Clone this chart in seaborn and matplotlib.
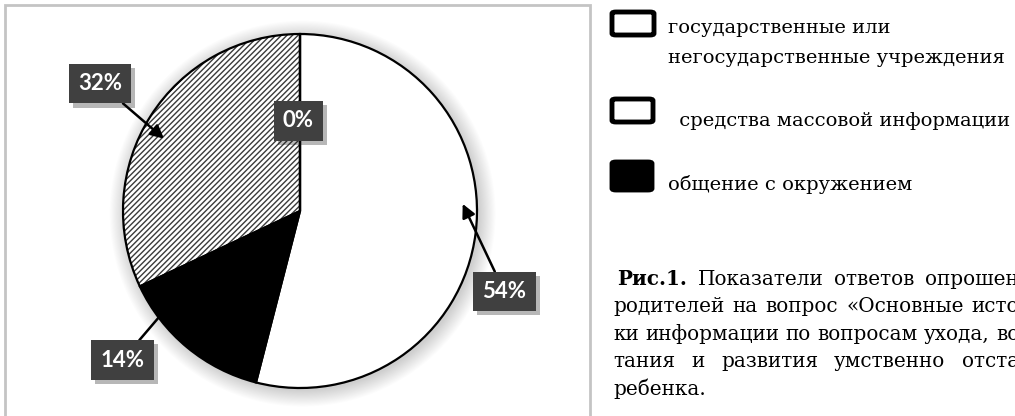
import numpy as np
import matplotlib
matplotlib.use("Agg")
import matplotlib.pyplot as plt
import seaborn as sns
from matplotlib.patches import Rectangle, Circle, FancyBboxPatch
from matplotlib import patheffects as pe

# ---- data ----
categories = ["государственные или\nнегосударственные учреждения",
              "средства массовой информации",
              "общение с окружением",
              "прочее"]
values = [54, 14, 32, 0]
pct_labels = ["54%", "14%", "32%", "0%"]
legend_labels = ["государственные или\nнегосударственные учреждения",
                 " средства массовой информации",
                 "общение с окружением"]
legend_colors = ["white", "white", "black"]
caption_lines = [
    ["Рис.1.", "Показатели", "ответов", "опрошен"],
    ["родителей", "на", "вопрос", "«Основные", "исто"],
    ["ки", "информации", "по", "вопросам", "ухода,", "во"],
    ["тания", "и", "развития", "умственно", "отста"],
    ["ребенка."],
]

sns.set_theme(style="white")
plt.rcParams["hatch.linewidth"] = 1.0

W, H = 1015, 416
fig = plt.figure(figsize=(W / 100, H / 100), dpi=100)
fig.patch.set_facecolor("white")
renderer = fig.canvas.get_renderer()

def fx(x):
    return x / W

def fy(y):
    return 1 - y / H

# chart frame
fig.add_artist(Rectangle((fx(5), -0.05), fx(585), fy(5) + 0.05,
                         transform=fig.transFigure, fill=False,
                         edgecolor="#c4c4c4", linewidth=2))

cx, cy, R = 300, 211, 177
ax = fig.add_axes([fx(cx - R), (H - cy - R) / H, 2 * R / W, 2 * R / H])

# soft shadow
for i in range(16):
    ax.add_patch(Circle((0.015, -0.015), 1.0 + i * 0.006, color="black",
                        alpha=0.011, zorder=0, linewidth=0, clip_on=False))

face = ["white", "black", "white", "white"]
wedges, _ = ax.pie(values, colors=face, startangle=90, counterclock=False,
                   radius=1, wedgeprops=dict(linewidth=0, edgecolor="#555555"))
wedges[2].set_hatch("//////")
wedges[2].set_edgecolor("#3a3a3a")
for w in wedges:
    w.set_zorder(2)
outl, _ = ax.pie(values, colors=["none"] * 4, startangle=90, counterclock=False,
                 radius=1, wedgeprops=dict(linewidth=1.6, edgecolor="black", fill=False))
for w in outl:
    w.set_zorder(3)
ax.set_xlim(-1, 1)
ax.set_ylim(-1, 1)
ax.set_aspect("equal")
ax.axis("off")

# label layout: (label angle cw from top, label radius, target angle, target radius, arrow style)
layout = {
    0: (111.5, 1.24, 87.5, 0.92, "-|>"),
    1: (230.0, 1.31, 233.0, 1.0, "-"),
    2: (302.5, 1.34, 298.0, 0.87, "-|>"),
    3: (-1.0, 0.51, None, None, None),
}

def pos(ang, r):
    a = np.deg2rad(90 - ang)
    return r * np.cos(a), r * np.sin(a)

box = dict(boxstyle="square,pad=0.42", fc="#404040", ec="none")
for i, lab in enumerate(pct_labels):
    la, lr, ta, tr, st = layout[i]
    lx, ly = pos(la, lr)
    if ta is not None:
        tx, ty = pos(ta, tr)
        ann = ax.annotate(lab, xy=(tx, ty), xytext=(lx, ly),
                          ha="center", va="center", color="white",
                          fontsize=16, fontweight="bold", family="Lato",
                          bbox=box,
                          arrowprops=dict(arrowstyle=st, color="black", lw=1.8,
                                          mutation_scale=20, shrinkA=0, shrinkB=0),
                          zorder=5, annotation_clip=False)
    else:
        ann = ax.text(lx, ly, lab, ha="center", va="center", color="white",
                      fontsize=16, fontweight="bold", family="Lato",
                      bbox=box, zorder=5)
    ann.get_bbox_patch().set_path_effects([pe.SimplePatchShadow(offset=(3, -3), alpha=0.3),
                                            pe.Normal()])

# legend (drawn manually to follow the reference spacing)
marker_boxes = [(612, 12, 42, 23), (612, 99, 41, 23), (612, 162, 40, 28)]
text_pos = [(668, 63), (673, 126), (668, 190)]
for lab, col, (mx, my, mw, mh), (tx, ty) in zip(legend_labels, legend_colors, marker_boxes, text_pos):
    fig.add_artist(FancyBboxPatch((fx(mx), fy(my + mh)), mw / W, mh / H,
                                  boxstyle="round,pad=0,rounding_size=0.004",
                                  transform=fig.transFigure, facecolor=col,
                                  edgecolor="black", linewidth=3.5))
    fig.text(fx(tx), fy(ty), lab, ha="left", va="baseline",
             family="DejaVu Serif", fontsize=14, linespacing=1.85, color="black")

# caption: fit font size so that a normally spaced line fills the column
left, right = 613, 1019
probe = fig.text(0, 0, " ".join(caption_lines[2]), family="DejaVu Serif", fontsize=10)
cap_size = 10 * (right - left) / probe.get_window_extent(renderer).width
probe.remove()
space = fig.text(0, 0, "a a", family="DejaVu Serif", fontsize=cap_size)
sp_w = space.get_window_extent(renderer).width
space.set_text("aa")
sp_w -= space.get_window_extent(renderer).width
space.remove()

baselines = [285, 312, 340, 367, 395]
for li, (words, yb) in enumerate(zip(caption_lines, baselines)):
    arts = []
    for w in words:
        t = fig.text(0, fy(yb), w, ha="left", va="baseline",
                     family="DejaVu Serif", fontsize=cap_size,
                     fontweight="bold" if w == "Рис.1." else "normal", color="black")
        arts.append(t)
    widths = [a.get_window_extent(renderer).width for a in arts]
    x0 = left + (4 if li == 0 else 0)
    if len(words) > 1:
        gap = max(sp_w, (right - x0 - sum(widths)) / (len(words) - 1))
    else:
        gap = 0
    x = x0
    for a, wd in zip(arts, widths):
        a.set_x(fx(x))
        x += wd + gap

fig.savefig("out.png", dpi=100, facecolor="white")
